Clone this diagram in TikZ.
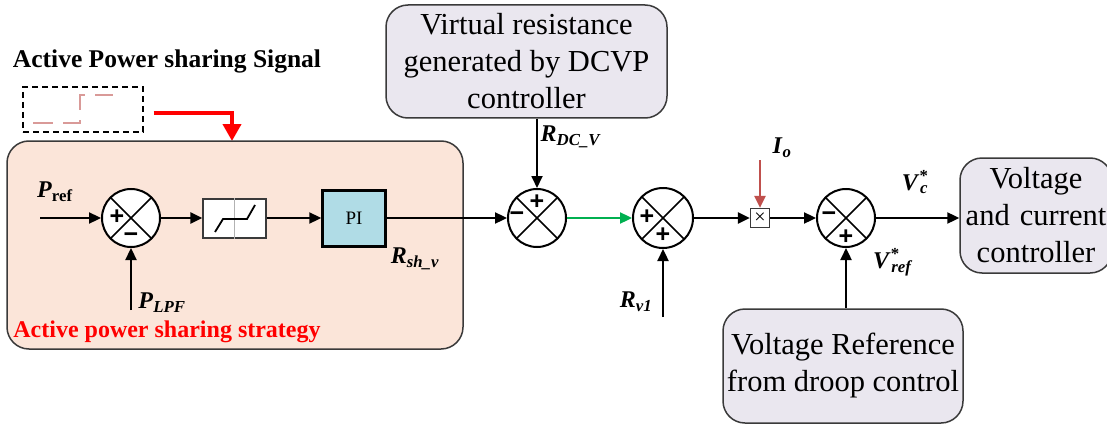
\documentclass[tikz,border=0pt]{standalone}
\usepackage{fontspec}
\setmainfont{Liberation Serif}
\setsansfont{Liberation Sans}
\usetikzlibrary{arrows.meta,calc,positioning}
\definecolor{ctrlPeach}{HTML}{FBE5D9}
\definecolor{ctrlLilac}{HTML}{EAE7EF}
\definecolor{ctrlBlue}{HTML}{B0DCE6}
\definecolor{ctrlEdge}{HTML}{3A3A3A}
\definecolor{ctrlRed}{HTML}{FF0000}
\definecolor{ctrlBrick}{HTML}{C0504D}
\definecolor{ctrlGreen}{HTML}{00B050}
\definecolor{ctrlPink}{HTML}{D99A98}
\newcommand\sigsub[2]{\textbf{\textit{#1}}\textsubscript{\textbf{\textit{#2}}}}
\newcommand\sigstar[2]{\textbf{\textit{#1}}\textsuperscript{\rlap{\textbf{*}}}\textsubscript{\textbf{\textit{#2}}}}

\begin{document}
\begin{tikzpicture}[x=1pt,y=-1pt,>={Triangle[length=12pt,width=11pt]},line join=miter]
\useasboundingbox (0,0) rectangle (1107,425);
\path[fill=white] (0,0) rectangle (1107,425);
\clip (0,0) rectangle (1107,425);
\tikzset{wire/.style={draw=black,line width=2.3pt},sumnode/.style={circle,draw=black,line width=2pt,fill=white,minimum size=58pt,inner sep=0pt,path picture={\draw[line width=1.6pt] (path picture bounding box.north west) -- (path picture bounding box.south east) (path picture bounding box.north east) -- (path picture bounding box.south west);}},sign/.style={font=\sffamily\bfseries\fontsize{25}{25}\selectfont,inner sep=0pt},infobox/.style={draw=ctrlEdge,fill=ctrlLilac,line width=1.5pt,rounded corners=22pt,align=center,inner sep=0pt,font=\rmfamily\fontsize{30.5}{37}\selectfont},sig/.style={font=\rmfamily\fontsize{24}{28}\selectfont,inner sep=0pt}}
\node[font=\rmfamily\bfseries\fontsize{25.5}{30}\selectfont,inner sep=0pt] (sigtitle) at (167,61) {Active Power sharing Signal};
\node[draw=black,line width=1.3pt,dash pattern=on 6pt off 4pt,minimum width=120pt,minimum height=45pt,inner sep=0pt] (sigbox) at (83,109.5) {};
\draw[ctrlPink,line width=2.5pt,dash pattern=on 20pt off 10pt] (33,123) -- (80,123) -- (80,95) -- (113,95);
\draw[ctrlRed,line width=4pt,-{Triangle[length=17pt,width=18pt]}] ([xshift=10pt,yshift=-4pt]sigbox.east) coordinate (sigstart) -| (232,141) coordinate (strattop);
\draw[draw=ctrlEdge,fill=ctrlPeach,line width=1.5pt,rounded corners=22pt] (7,141) rectangle (463,349);
\node[text=ctrlRed,font=\rmfamily\bfseries\fontsize{24}{28}\selectfont,inner sep=0pt] (stratname) at (167,332) {Active power sharing strategy};
\node[sumnode] (s1) at (131,218) {}; \node[sign] at ([xshift=-14pt,yshift=1pt]s1.center) {+}; \node[sign] at ([yshift=-20pt]s1.center) {−};
\node[draw=ctrlEdge,fill=white,line width=1.3pt,minimum width=63pt,minimum height=39pt,inner sep=0pt] (dz) at (234.5,218.5) {};
\draw[black!30,line width=1pt] (dz.north) -- (dz.south);
\draw[line width=1.8pt] (215,232) -- (223,219) -- (247,219) -- (255,205);
\node[draw=black,fill=ctrlBlue,line width=2.5pt,minimum width=63pt,minimum height=56pt,inner sep=0pt,font=\rmfamily\fontsize{19}{20}\selectfont] (pi) at (354,218.5) {PI};
\node[infobox,minimum width=281pt,minimum height=113pt] (vr) at (526.5,61.5) {Virtual resistance\\generated by DCVP\\controller};
\node[sumnode] (s2) at (537,218) {}; \node[sign] at ([xshift=-20pt,yshift=1pt]s2.center) {−}; \node[sign] at ([yshift=16pt]s2.center) {+};
\node[sumnode,minimum size=60pt] (s3) at (663,218) {}; \node[sign] at ([xshift=-16pt,yshift=1pt]s3.center) {+}; \node[sign] at ([yshift=-17pt]s3.center) {+};
\node[draw=ctrlEdge,fill=white,line width=1.2pt,minimum size=19pt,inner sep=0pt,font=\fontsize{20}{20}\selectfont] (mul) at (760,218) {×};
\node[sumnode] (s4) at (846,218) {}; \node[sign] at ([xshift=-17pt,yshift=1pt]s4.center) {−}; \node[sign] at ([yshift=-19pt]s4.center) {+};
\node[infobox,minimum width=152pt,minimum height=115pt,text width=152pt] (vcc) at (1036,215.5) {Voltage\\and current\\controller};
\node[infobox,minimum width=240pt,minimum height=114pt] (vref) at (843,366) {Voltage Reference\\from droop control};
\coordinate (pref) at (40,218); \coordinate (plpf) at (131,310); \coordinate (rv1) at (663,317); \coordinate (io) at (760,160);
\draw[wire,->] (pref) -- (s1); \draw[wire,->] (plpf) -- (s1); \draw[wire,->] (s1) -- (s1 -| dz.west); \draw[wire,->] (dz.east |- s1) -- (s1 -| pi.west);
\draw[wire,->] (pi.east |- s2) -- (s2); \draw[wire,->,line width=1.8pt] (vr.south -| s2) -- (s2);
\draw[wire,->,draw=ctrlGreen,fill=ctrlGreen] (s2) -- (s3); \draw[wire,->] (rv1) -- (s3);
\draw[wire,->] (s3) -- (mul); \draw[wire,->,draw=ctrlBrick,fill=ctrlBrick] (io) -- (mul);
\draw[wire,->] (mul) -- (s4); \draw[wire,->] (vref.north -| s4) -- (s4); \draw[wire,->] (s4) -- (s4 -| vcc.west);
\node[sig] (lpref) at (55,192) {\textbf{\textit{P}}\textsubscript{\textbf{ref}}};
\node[sig] (lplpf) at (162,303) {\sigsub{P}{LPF}};
\node[sig] (lrsh) at (415,259) {\sigsub{R}{sh\_v}};
\node[sig] (lrdc) at (571,137) {\sigsub{R}{DC\_V}};
\node[sig] (lrv1) at (636,302) {\sigsub{R}{v1}};
\node[sig] (lio) at (782,148) {\sigsub{I}{o}};
\node[sig] (lvc) at (915,182) {\sigstar{V}{c}};
\node[sig] (lvref) at (893,262) {\sigstar{V}{ref}};
\end{tikzpicture}
\end{document}
